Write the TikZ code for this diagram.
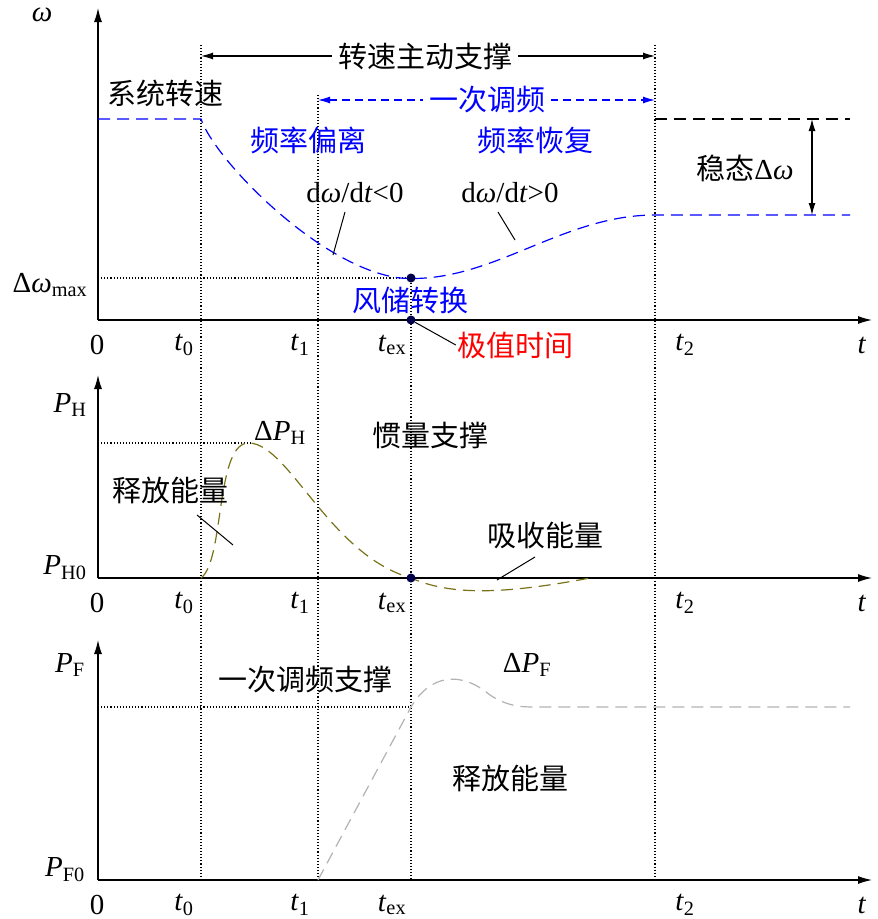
\documentclass[tikz,border=0pt]{standalone}
\usepackage{fontspec}
\setmainfont{Liberation Serif}
\newfontfamily\cjk{Noto Sans CJK SC}
\usetikzlibrary{arrows.meta}
\newcommand{\vi}[1]{\textit{#1}}
\newcommand{\vsub}[1]{\textsubscript{#1}}
\begin{document}
\begin{tikzpicture}[x=1pt,y=-1pt,font=\fontsize{29}{32}\selectfont]
    \tikzstyle{axis}=[-{Latex[length=14pt,width=8pt]},line width=1.2pt]
    \tikzstyle{guide}=[dotted,line width=1.1pt]
    \tikzstyle{lbl}=[inner sep=1pt]
    \tikzstyle{zh}=[lbl,font=\fontsize{29}{32}\selectfont\cjk]
    \tikzstyle{dot}=[circle,fill=black!70!blue,inner sep=0pt,minimum size=9pt]
    \tikzstyle{span}=[{Latex[length=12pt,width=7pt]}-{Latex[length=12pt,width=7pt]},line width=1.1pt]
    \useasboundingbox (0,0) rectangle (878,919);

    % guides
    \foreach \x/\top in {201/45,318/95,411/280,655/45}
        \draw[guide] (\x,\top) -- (\x,880);
    \draw[guide] (98,278) -- (411,278);
    \draw[guide] (98,443) -- (250,443);
    \draw[guide] (98,707) -- (411,707);

    % axes
    \foreach \ya/\yb in {320/8,578/375,880/640}
        \draw[axis] (98,\ya) -- (98,\yb);
    \foreach \ya in {320,578,880}
        \draw[axis] (98,\ya) -- (872,\ya);
    \foreach \yt/\name in {345/a,603/b,905/c} {
        \node[lbl] (zero-\name) at (97,\yt) {0};
        \node[lbl] (t0-\name) at (184,\yt) {\vi{t}\vsub{0}};
        \node[lbl] (t1-\name) at (300,\yt) {\vi{t}\vsub{1}};
        \node[lbl] (tex-\name) at (392,\yt) {\vi{t}\vsub{ex}};
        \node[lbl] (t2-\name) at (685,\yt) {\vi{t}\vsub{2}};
        \node[lbl] (t-\name) at (862,\yt) {\vi{t}};
    }

    % speed panel
    \node[lbl] (omega) at (42,15) {\vi{ω}};
    \node[zh] (xitong) at (165,93) {系统转速};
    \coordinate (s0) at (201,56);
    \coordinate (s2) at (655,56);
    \draw[span] (s0) -- (s2);
    \node[zh,fill=white,inner xsep=6pt] (zhudong) at (425,56) {转速主动支撑};
    \coordinate (p1) at (318,100);
    \coordinate (p2) at (655,100);
    \draw[span,blue,dash pattern=on 8pt off 5pt] (p1) -- (p2);
    \node[zh,blue,fill=white,inner xsep=6pt] (yici) at (487,100) {一次调频};
    \draw[blue,line width=1.2pt,dash pattern=on 12pt off 7pt]
        (98,119) -- (201,119) .. controls (215,160) and (320,268) .. (400,278)
        .. controls (490,285) and (560,215) .. (655,215) -- (850,215);
    \node[zh,blue] (pianli) at (308,140) {频率偏离};
    \node[zh,blue] (huifu) at (535,140) {频率恢复};
    \node[lbl] (neg) at (355,193) {d\vi{ω}/d\vi{t}<0};
    \node[lbl] (pos) at (510,193) {d\vi{ω}/d\vi{t}>0};
    \draw[line width=1pt] (345,212) -- (333,255);
    \draw[line width=1pt] (498,212) -- (515,240);
    \node[lbl] (dwmax) at (50,285) {Δ\vi{ω}\vsub{max}};
    \node[dot] (ext) at (411,278) {};
    \node[dot] (tex0) at (411,320) {};
    \node[zh,blue] (fengchu) at (410,300) {风储转换};
    \node[zh,red] (jizhi) at (515,345) {极值时间};
    \draw[line width=1pt] (tex0) -- (jizhi.west);
    \draw[line width=1.2pt,dash pattern=on 12pt off 7pt] (655,119) -- (850,119);
    \coordinate (w1) at (812,119);
    \coordinate (w2) at (812,215);
    \draw[span] (w1) -- (w2);
    \node[zh,fill=white] (wentai) at (745,168) {稳态{\rmfamily Δ\vi{ω}}};

    % inertia panel
    \node[lbl] (ph) at (70,405) {\vi{P}\vsub{H}};
    \node[lbl] (ph0) at (65,568) {\vi{P}\vsub{H0}};
    \draw[olive!80!black,line width=1.2pt,dash pattern=on 12pt off 7pt]
        (201,578) .. controls (225,560) and (215,440) .. (250,443)
        .. controls (290,446) and (330,555) .. (411,578)
        .. controls (450,595) and (500,595) .. (590,578);
    \node[lbl] (dph) at (280,433) {Δ\vi{P}\vsub{H}};
    \node[zh] (guanliang) at (430,435) {惯量支撑};
    \node[zh] (shifang1) at (170,490) {释放能量};
    \draw[line width=1pt] (197,515) -- (233,545);
    \node[zh] (xishou) at (545,535) {吸收能量};
    \draw[line width=1pt] (535,557) -- (497,580);
    \node[dot] (tex1) at (411,578) {};

    % primary frequency panel
    \node[lbl] (pf) at (70,665) {\vi{P}\vsub{F}};
    \node[lbl] (pf0) at (65,870) {\vi{P}\vsub{F0}};
    \draw[line width=1.2pt,dash pattern=on 12pt off 7pt] (98,880) -- (318,880);
    \draw[black!30,line width=1.2pt,dash pattern=on 12pt off 7pt]
        (318,880) -- (411,707) .. controls (430,675) and (460,670) .. (490,695)
        .. controls (510,708) and (525,707) .. (540,707) -- (850,707);
    \node[zh] (zhicheng) at (305,680) {一次调频支撑};
    \node[lbl] (dpf) at (527,665) {Δ\vi{P}\vsub{F}};
    \node[zh] (shifang2) at (510,778) {释放能量};
\end{tikzpicture}
\end{document}
